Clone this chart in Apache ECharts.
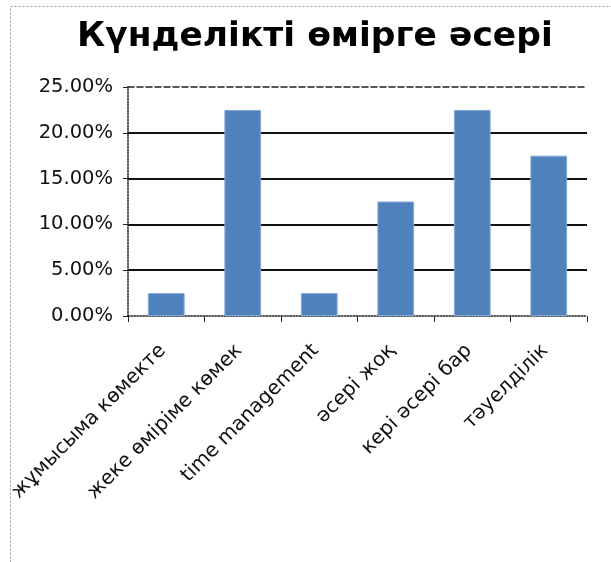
<!DOCTYPE html>
<html><head><meta charset="utf-8">
<script src="https://cdn.jsdelivr.net/npm/echarts@6/dist/echarts.min.js"></script>
<style>html,body{margin:0;padding:0;background:#fff}#c{width:611px;height:562px}</style>
</head><body><div id="c"></div>
<script>
const titleText = 'Күнделікті өмірге әсері';
const categories = ['жұмысыма көмекте', 'жеке өміріме көмек', 'time management', 'әсері жоқ', 'кері әсері бар', 'тәуелділік'];
const values = [2.5, 22.5, 2.5, 12.5, 22.5, 17.5];
const yTicks = [0, 5, 10, 15, 20, 25];

const chart = echarts.init(document.getElementById('c'), null, {renderer: 'canvas'});
chart.setOption({
  animation: false,
  backgroundColor: '#fff',
  title: {
    text: titleText, left: 72, top: 15,
    textStyle: {fontFamily: 'DejaVu Sans', fontWeight: 'bold', fontSize: 34.5, color: '#000'}
  },
  graphic: [{
    type: 'rect', shape: {x: 10.5, y: 6.5, width: 700, height: 700},
    style: {fill: 'none', stroke: '#999', lineWidth: 1, lineDash: [2, 2]}, z: -1
  }],
  grid: {left: 128, right: 24, top: 87, bottom: 246},
  xAxis: [{
    type: 'category', data: categories, position: 'bottom',
    axisLine: {lineStyle: {color: '#222', type: 'dotted', width: 1.5}},
    axisTick: {show: true, length: 6, lineStyle: {color: '#222'}},
    axisLabel: {rotate: 45, margin: 28, padding: [0, 5, 0, 0], fontFamily: 'DejaVu Sans', fontSize: 20, color: '#111', interval: 0}
  }, {
    type: 'category', data: categories, position: 'top',
    axisLine: {lineStyle: {color: '#222', type: 'dashed', width: 1.5}},
    axisTick: {show: false}, axisLabel: {show: false}
  }],
  yAxis: {
    type: 'value', min: 0, max: 25, interval: 5,
    axisLine: {show: true, lineStyle: {color: '#222', type: 'dotted', width: 1.5}},
    axisTick: {show: true, length: 5, lineStyle: {color: '#222'}},
    axisLabel: {
      fontFamily: 'DejaVu Sans', fontSize: 19.5, color: '#111', margin: 15,
      formatter: v => yTicks.includes(v) ? v.toFixed(2) + '%' : ''
    },
    splitLine: {show: true, showMinLine: false, showMaxLine: false, lineStyle: {color: '#111', width: 2}}
  },
  series: [{
    type: 'bar', data: values, xAxisIndex: 0, barWidth: '48%',
    itemStyle: {color: '#4F81BD', borderColor: '#86A8D6', borderWidth: 1}
  }]
});
</script></body></html>
